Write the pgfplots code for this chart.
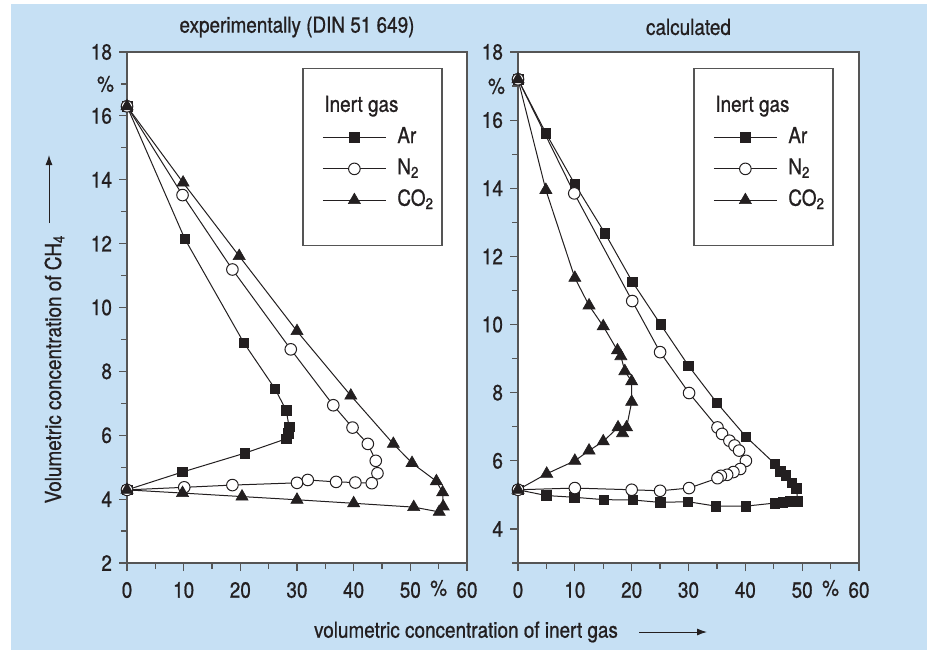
\documentclass[border=0pt]{standalone}
\usepackage{fontspec}
\setmainfont[FakeStretch=0.86, FakeBold=0.8]{TeX Gyre Heros}
\usepackage{pgfplots}
\pgfplotsset{compat=1.18}
\usetikzlibrary{arrows.meta}
\definecolor{bgblue}{RGB}{198,224,244}
\definecolor{axgray}{RGB}{85,85,85}
\definecolor{ink}{RGB}{35,31,32}
\newcommand{\fs}{\fontsize{11}{13}\selectfont}
\pgfplotsset{
 myax/.style={
  scale only axis, height=255.5pt,
  xmin=0, xmax=60, clip=false,
  axis background/.style={fill=white},
  axis line style={axgray, line width=0.6pt},
  tick style={axgray, line width=0.6pt},
  tick align=outside, xtick pos=bottom, ytick pos=left,
  major tick length=4pt, minor tick length=3pt,
  xtick={0,10,...,60}, xticklabels={0,10,20,30,40,50,60},
  minor xtick={5,15,...,45},
  extra x ticks={55}, extra x tick labels={\%},
  extra x tick style={major tick length=3pt},
  extra y ticks={17}, extra y tick labels={\%},
  extra y tick style={major tick length=3pt},
  tick label style={font=\fs, text=ink},
  xticklabel style={yshift=-2pt},
  title style={font=\fs, text=ink, at={(0.5,1)}, anchor=center, yshift=6.5pt},
  legend style={draw=none, fill=none, font=\fs, text=ink,
    at={(0.5176,0.967)}, anchor=north west,
    inner xsep=9.5pt, inner ysep=13.25pt, row sep=5.15pt, column sep=5.5pt,
    cells={anchor=west},
    nodes={inner sep=0pt, text height=8pt, text depth=2.5pt}},
  legend cell align=left,
  legend image code/.code={\draw[mark repeat=2,mark phase=2] plot coordinates {(0pt,0pt) (15.75pt,0pt) (31.5pt,0pt)};},
 },
 ar/.style={ink, line width=0.5pt, mark=square*, mark size=2.4pt, mark options={fill=ink, draw=ink, line width=0.3pt}},
 nn/.style={ink, line width=0.5pt, mark=*, mark size=2.9pt, mark options={fill=white, draw=ink, line width=0.5pt}},
 co/.style={ink, line width=0.5pt, mark=triangle*, mark size=3.5pt, mark options={fill=ink, draw=ink, line width=0.3pt}},
}
\begin{document}
\begin{tikzpicture}
\fill[white] (0pt,0pt) rectangle (463.5pt,-325pt);
\fill[bgblue] (5.5pt,-2pt) rectangle (463.5pt,-325pt);

\begin{axis}[myax, width=170pt, at={(63.5pt,-281.5pt)}, anchor=south west,
  ymin=2, ymax=18, ytick={2,4,...,18}, yticklabels={2,4,6,8,10,12,14,16,18},
  minor ytick={3,5,...,15},
  title={experimentally (DIN 51 649)},
  legend entries={\makebox[0pt][l]{\hspace*{-37pt}Inert gas}, Ar, N\textsubscript{2}, CO\textsubscript{2}}]
\addlegendimage{empty legend}
\addplot[ar] coordinates {(0,16.3) (10.2,12.15) (20.6,8.9) (26.1,7.46) (28.1,6.78) (28.6,6.27) (28.5,6.07) (28.1,5.89) (20.8,5.44) (9.8,4.85) (0,4.29)};
\addplot[nn] coordinates {(0,16.3) (9.8,13.52) (18.6,11.19) (28.9,8.69) (36.4,6.94) (39.8,6.24) (42.5,5.73) (43.9,5.2) (44.2,4.81) (43.2,4.5) (40.3,4.52) (36.9,4.54) (31.9,4.6) (30.0,4.51) (18.6,4.44) (10.1,4.37) (0,4.29)};
\addplot[co] coordinates {(0,16.3) (9.9,13.91) (19.8,11.61) (30.0,9.26) (39.5,7.24) (47.0,5.73) (50.3,5.13) (54.6,4.56) (55.7,4.21) (55.8,3.77) (55.1,3.6) (50.6,3.75) (40.0,3.87) (30.0,3.98) (20.3,4.08) (9.8,4.19) (0,4.29)};
\draw[axgray, line width=0.6pt] (rel axis cs:0.5176,0.967) rectangle (rel axis cs:0.9265,0.6216);
\end{axis}

\begin{axis}[myax, width=170.5pt, at={(259pt,-281.5pt)}, anchor=south west,
  ymin=3, ymax=18, ytick={4,6,...,18}, yticklabels={4,6,8,10,12,14,16,18},
  minor ytick={3,5,...,15},
  title={calculated},
  legend style={at={(0.516,0.967)}},
  legend entries={\makebox[0pt][l]{\hspace*{-37pt}Inert gas}, Ar, N\textsubscript{2}, CO\textsubscript{2}}]
\addlegendimage{empty legend}
\addplot[ar] coordinates {(0,17.2) (4.9,15.62) (10.0,14.12) (15.3,12.68) (20.1,11.26) (25.1,10.0) (30.0,8.79) (35.0,7.70) (40.1,6.71) (45.2,5.91) (46.2,5.69) (47.1,5.57) (48.2,5.36) (49.0,5.19) (49.2,4.82) (47.9,4.81) (46.6,4.78) (45.2,4.76) (40.1,4.67) (34.8,4.67) (29.9,4.80) (25.0,4.78) (20.2,4.85) (15.1,4.86) (9.9,4.93) (5.0,4.98) (0,5.15)};
\addplot[nn] coordinates {(0,17.2) (9.9,13.85) (20.1,10.69) (25.0,9.19) (30.1,7.99) (35.1,6.98) (35.9,6.79) (37.2,6.59) (38.1,6.45) (38.9,6.30) (40.1,6.0) (39.1,5.76) (37.9,5.67) (36.8,5.59) (35.7,5.56) (35.1,5.49) (30.1,5.20) (25.0,5.12) (20.0,5.15) (10.0,5.20) (0,5.15)};
\addplot[co] coordinates {(0,17.2) (4.9,13.95) (10.0,11.37) (12.5,10.56) (15.0,9.95) (17.5,9.24) (18.1,9.07) (18.8,8.63) (20.0,8.33) (20.0,7.73) (19.1,6.98) (18.4,6.81) (17.6,6.98) (15.0,6.57) (12.5,6.30) (10.0,6.0) (5.05,5.62) (0,5.15)};
\draw[axgray, line width=0.6pt] (rel axis cs:0.516,0.967) rectangle (rel axis cs:0.924,0.6216);
\end{axis}

\node[rotate=90, font=\fs, text=ink] at (27.25pt,-184.5pt) {Volumetric concentration of CH\textsubscript{4}};
\draw[ink, line width=0.5pt, -{Latex[length=5pt,width=3.5pt]}] (24.5pt,-111.5pt) -- (24.5pt,-77.5pt);
\node[font=\fs, text=ink] at (233pt,-316pt) {volumetric concentration of inert gas};
\draw[ink, line width=0.5pt, -{Latex[length=5pt,width=3.5pt]}] (319.5pt,-316pt) -- (353.5pt,-316pt);
\end{tikzpicture}
\end{document}
